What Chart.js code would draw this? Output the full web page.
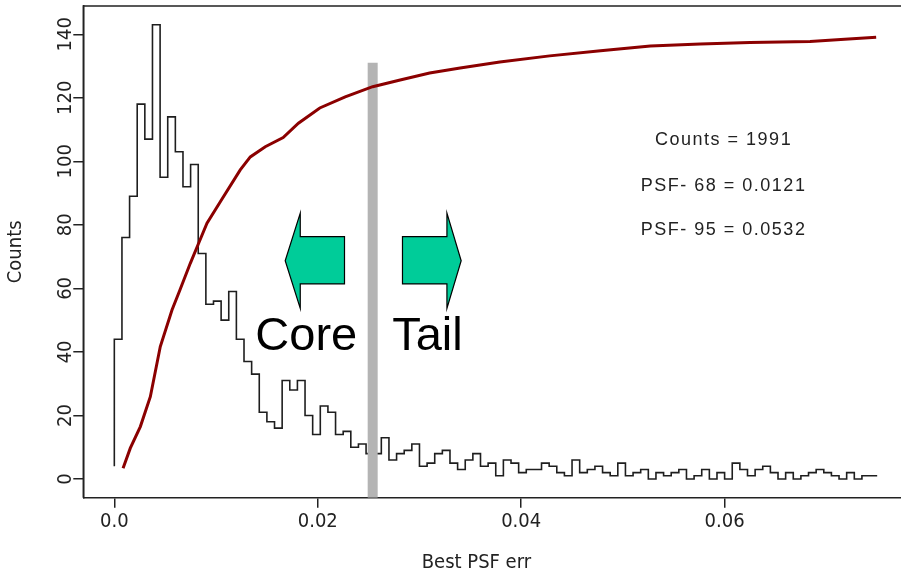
<!DOCTYPE html>
<html>
<head>
<meta charset="utf-8">
<script src="https://cdn.jsdelivr.net/npm/chart.js@4.4.1/dist/chart.umd.min.js"></script>
<style>
html,body{margin:0;padding:0;background:#ffffff;overflow:hidden;width:901px;height:569px;}
#wrap{position:relative;width:916px;height:569px;}
canvas{display:block;}
</style>
</head>
<body>
<div id="wrap"><canvas id="c" width="916" height="569"></canvas></div>
<script>
// ---------------- data ----------------
const binStart = 0.0;
const binWidth = 0.00075;
const firstCount = 4;
const counts = [
  44, 76, 89, 118, 107, 143, 95, 114, 103, 92,
  99, 71, 55, 56, 50, 59, 44, 37, 33, 21,
  18, 16, 31, 28, 31, 20, 14, 23, 21, 14,
  15, 10, 11, 8, 8, 13, 6, 8, 9, 11,
  4, 5, 8, 9, 5, 3, 6, 8, 4, 5,
  1, 6, 5, 2, 3, 3, 5, 4, 2, 1,
  6, 2, 3, 4, 2, 1, 5, 1, 2, 3,
  0, 2, 1, 2, 3, 0, 1, 3, 0, 2,
  0, 5, 3, 1, 3, 4, 2, 0, 2, 0,
  1, 2, 3, 2, 1, 0, 2, 0, 1, 1
];
const cdfX = [0.00086, 0.00157, 0.00256, 0.00354, 0.00452, 0.00567, 0.00645, 0.00747, 0.00829, 0.00911,
  0.01042, 0.01238, 0.01337, 0.01484, 0.0166, 0.0181, 0.0202, 0.0227, 0.0254, 0.0281,
  0.031, 0.034, 0.0379, 0.0428, 0.0478, 0.0527, 0.0576, 0.0625, 0.0684, 0.0718, 0.0749];
const cdfY = [3.4, 9.7, 16.5, 25.9, 41.7, 53.2, 59.5, 67.9, 74.2, 80.5,
  87.3, 97.3, 101.4, 104.6, 107.5, 112.0, 116.8, 120.3, 123.5, 125.6,
  127.8, 129.4, 131.3, 133.2, 134.8, 136.3, 136.9, 137.4, 137.7, 138.4, 139.1];
const cutX = 0.0254;
const cutTop = 131;
const xTicks = [0, 0.02, 0.04, 0.06];
const xTickLabels = ['0.0', '0.02', '0.04', '0.06'];
const yTicks = [0, 20, 40, 60, 80, 100, 120, 140];
const xTitle = 'Best PSF err';
const yTitle = 'Counts';
const statsLines = ['Counts = 1991', 'PSF- 68 = 0.0121', 'PSF- 95 = 0.0532'];
const regionLabels = ['Core', 'Tail'];

// ---------------- build datasets ----------------
const histPoints = [{x: binStart, y: firstCount}]
  .concat(counts.map((c, i) => ({x: binStart + i * binWidth, y: c})))
  .concat([{x: binStart + counts.length * binWidth, y: counts[counts.length - 1]}]);
const cdfPoints = cdfX.map((x, i) => ({x: x, y: cdfY[i]}));

const Y_MIN = -5.89, Y_MAX = 148.9;
const X_MIN = -0.00305, X_MAX = 0.078;
const cutPoints = [{x: cutX, y: Y_MIN}, {x: cutX, y: cutTop}];

const tickFont = {family: '"Liberation Sans Narrow", "Arial Narrow", "DejaVu Sans Condensed", Arial, sans-serif', size: 20};
const titleFont = {family: '"Liberation Sans Narrow", "Arial Narrow", "DejaVu Sans Condensed", Arial, sans-serif', size: 20};

// annotation plugin: arrows, Core/Tail, stats, box, x title
const annot = {
  id: 'annot',
  afterDatasetsDraw(chart) {
    const ctx = chart.ctx, xs = chart.scales.x, ys = chart.scales.y;
    const X = v => xs.getPixelForValue(v), Y = v => ys.getPixelForValue(v);
    ctx.save();
    function arrow(pts) {
      ctx.beginPath();
      pts.forEach((p, i) => { const px = X(p[0]), py = Y(p[1]); i ? ctx.lineTo(px, py) : ctx.moveTo(px, py); });
      ctx.closePath();
      ctx.fillStyle = '#00cc99';
      ctx.fill();
      ctx.lineWidth = 1.2;
      ctx.strokeStyle = '#000';
      ctx.stroke();
    }
    arrow([[0.0168, 68.7], [0.01828, 83.7], [0.01828, 76.3], [0.02263, 76.3], [0.02263, 61.4], [0.01828, 61.4], [0.01828, 53.7]]);
    arrow([[0.0341, 68.7], [0.0327, 83.7], [0.0327, 76.3], [0.02833, 76.3], [0.02833, 61.4], [0.0327, 61.4], [0.0327, 53.7]]);
    ctx.fillStyle = '#000';
    ctx.font = '47px "Liberation Sans", Arial, sans-serif';
    ctx.textAlign = 'left';
    ctx.textBaseline = 'alphabetic';
    ctx.fillText(regionLabels[0], X(0.01386), Y(40.6));
    ctx.fillText(regionLabels[1], X(0.02732), Y(40.6));
    ctx.fillStyle = '#222';
    ctx.font = '18px "Liberation Sans", Arial, sans-serif';
    try { ctx.letterSpacing = '1.5px'; } catch (e) {}
    ctx.textAlign = 'center';
    ctx.textBaseline = 'middle';
    const sy = [106.7, 92.2, 78.4];
    statsLines.forEach((t, i) => ctx.fillText(t, X(0.0599), Y(sy[i])));
    try { ctx.letterSpacing = '0px'; } catch (e) {}
    ctx.restore();
  },
  afterDraw(chart) {
    const ctx = chart.ctx, a = chart.chartArea, xs = chart.scales.x;
    ctx.save();
    ctx.strokeStyle = '#222';
    ctx.lineWidth = 1.5;
    ctx.beginPath();
    ctx.moveTo(a.left, a.bottom);
    ctx.lineTo(a.left, a.top);
    ctx.lineTo(a.right, a.top);
    ctx.lineTo(a.right, a.bottom);
    ctx.stroke();
    // x axis title (R places it centred under the visible plot)
    ctx.fillStyle = '#222';
    ctx.font = '20px ' + titleFont.family;
    ctx.textAlign = 'center';
    ctx.textBaseline = 'middle';
    ctx.fillText(xTitle, xs.getPixelForValue(0.0356), xs.bottom - 6);
    ctx.restore();
  }
};

new Chart(document.getElementById('c'), {
  type: 'line',
  data: {
    datasets: [
      {label: 'Cumulative', data: cdfPoints, borderColor: '#8b0000', borderWidth: 3, pointRadius: 0, tension: 0, fill: false},
      {label: 'Cut', data: cutPoints, borderColor: '#b4b4b4', borderWidth: 10, pointRadius: 0, fill: false, borderCapStyle: 'butt'},
      {label: 'Counts', data: histPoints, borderColor: '#1e1e1e', borderWidth: 1.6, pointRadius: 0, stepped: true, fill: false}
    ]
  },
  options: {
    responsive: false,
    devicePixelRatio: 1,
    animation: false,
    layout: {padding: {top: 6, right: 8.3, bottom: 0, left: 0}},
    plugins: {legend: {display: false}, tooltip: {enabled: false}},
    scales: {
      x: {
        type: 'linear', min: X_MIN, max: X_MAX,
        afterBuildTicks: s => { s.ticks = xTicks.map(v => ({value: v})); },
        afterFit: s => { s.height = 71.3; },
        ticks: {
          autoSkip: false, maxRotation: 0, minRotation: 0, padding: 2, color: '#222', font: tickFont,
          callback: v => xTickLabels[xTicks.indexOf(v)]
        },
        grid: {drawOnChartArea: false, drawTicks: true, tickLength: 10, color: '#222', lineWidth: 1.5},
        border: {display: true, color: '#222', width: 1.5},
        title: {display: false, text: xTitle}
      },
      y: {
        type: 'linear', min: Y_MIN, max: Y_MAX,
        afterBuildTicks: s => { s.ticks = yTicks.map(v => ({value: v})); },
        afterFit: s => { s.width = 83.3; },
        ticks: {
          autoSkip: false, minRotation: 90, maxRotation: 90, crossAlign: 'center', padding: -10, color: '#222', font: tickFont,
          callback: v => String(v)
        },
        grid: {drawOnChartArea: false, drawTicks: true, tickLength: 10, color: '#222', lineWidth: 1.5},
        border: {display: true, color: '#222', width: 1.5},
        title: {display: true, text: yTitle, color: '#222', font: Object.assign({lineHeight: 1.2}, titleFont), padding: {top: 4, bottom: 0}}
      }
    }
  },
  plugins: [annot]
});
</script>
</body>
</html>
